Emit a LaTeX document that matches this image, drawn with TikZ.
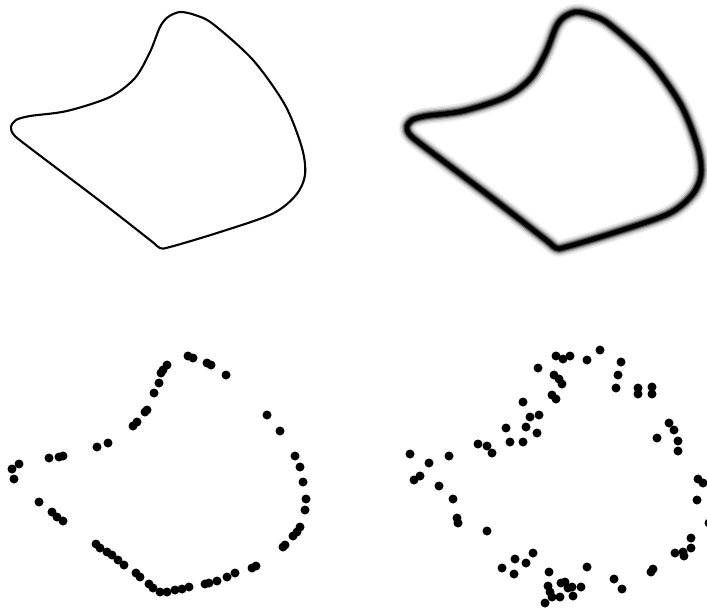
\documentclass[tikz,border=0pt]{standalone}
\begin{document}
\begin{tikzpicture}[x=1pt,y=-1pt,
  blob/.pic={\draw[line join=round,pic actions] plot[smooth cycle,tension=0.5] coordinates {
    (16,120) (30,116) (67,111) (110,97) (135,78) (150,52) (160,27) (168,17) (180,12) (195,15)
    (213,24) (253,60) (285,105) (302,148) (305,175) (296,195) (272,214) (217,233) (170,247)
    (160,248) (150,240) (100,201) (30,148) (14,135) (11,127)};},
  dot/.style={fill=black}]
\useasboundingbox (0,0) rectangle (707,610);
% top-left crisp outline
\pic[line width=2.1pt] at (0,0) {blob};
% top-right blurred outline
\begin{scope}[shift={(396,0)}]
  \pic[line width=17pt,draw opacity=0.06] at (0,0) {blob};
  \pic[line width=14pt,draw opacity=0.10] at (0,0) {blob};
  \pic[line width=11pt,draw opacity=0.18] at (0,0) {blob};
  \pic[line width=8.5pt,draw opacity=0.3] at (0,0) {blob};
  \pic[line width=6.5pt,draw opacity=0.5] at (0,0) {blob};
  \pic[line width=4.5pt] at (0,0) {blob};
\end{scope}
% bottom-left sampled points
\foreach \x/\y in {188/356,193/358,207/363,211/365,226/375,167/365,163/370,161/373,159/383,154/393,
  147/410,145/412,137/422,133/426,108/443,97/447,63/456,59/457,49/458,19/464,12/469,14/479,
  39/502,52/512,57/517,63/521,96/544,100/548,107/552,112/555,118/560,124/565,136/573,140/577,
  149/584,153/588,160/592,167/592,175/590,182/589,189/587,205/584,209/583,217/581,227/577,235/573,
  252/568,256/566,283/547,285/545,293/536,297/532,300/527,305/510,306/499,303/482,300/467,295/456,
  280/431,267/415}
  \fill[dot] (\x,\y) circle (4.5pt);
% bottom-right noisy points
\foreach \x/\y in {556/356,563/359,570/356,587/360,600/350,621/362,618/375,616/388,638/388,638/394,
  652/387,652/394,538/368,554/375,559/379,562/384,552/395,556/399,523/402,530/417,539/415,
  526/427,537/433,506/428,510/442,523/442,478/444,487/446,492/453,449/456,410/454,429/463,
  420/476,414/480,439/486,453/499,457/518,458/523,487/531,
  669/423,674/430,678/441,678/451,657/438,698/479,703/483,697/500,709/523,691/538,691/548,
  683/552,684/556,675/553,653/569,651/572,
  502/568,515/559,526/563,533/553,514/574,549/572,587/567,614/579,622/589,548/586,550/592,
  545/603,561/583,565/582,568/588,560/597,573/596,572/587,581/587,552/597}
  \fill[dot] (\x,\y) circle (4.5pt);
\end{tikzpicture}
\end{document}
